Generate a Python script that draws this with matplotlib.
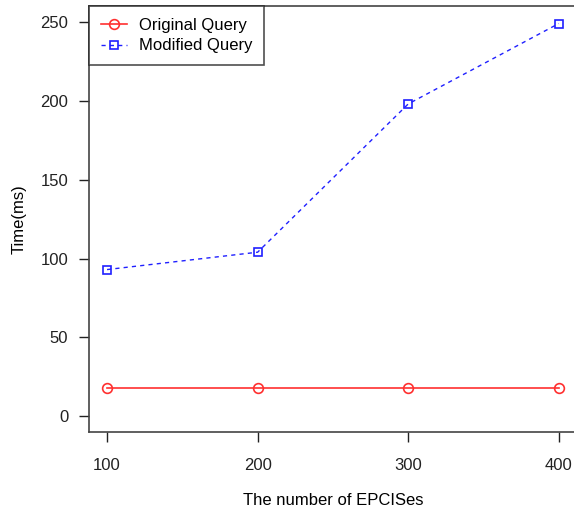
import matplotlib
matplotlib.use('Agg')
import matplotlib.pyplot as plt

plt.rcParams['font.family'] = ['Liberation Sans', 'DejaVu Sans']

# number of EPCISes vs query time
epcises = [100, 200, 300, 400]
original_query = [18, 18, 18, 18]
modified_query = [93, 104, 198, 249]
y_ticks = [0, 50, 100, 150, 200, 250]

fig = plt.figure(figsize=(5.74, 5.14), dpi=100)
ax = fig.add_axes([0.155, 0.1595, 0.85, 0.8285])

ax.plot(epcises, original_query, '-', color='#ff3030', marker='o', markersize=7,
        markerfacecolor='none', markeredgewidth=1.2, linewidth=1.2, label='Original Query')
ax.plot(epcises, modified_query, color='#2020ff', linestyle=(0, (3, 3)), marker='s', markersize=6,
        markerfacecolor='none', markeredgewidth=1.2, linewidth=1.0, label='Modified Query')

ax.set_xlim(88, 412)
ax.set_ylim(-10, 260)
ax.set_xticks(epcises)
ax.set_yticks(y_ticks)
ax.tick_params(direction='out', length=7, width=1, labelsize=12, pad=8, colors='#222222')
ax.tick_params(axis='x', pad=12)

for s in ax.spines.values():
    s.set_color('#444444')
    s.set_linewidth(1.2)
ax.spines['right'].set_visible(False)

ax.set_xlabel('The number of EPCISes', fontsize=12, labelpad=14)
ax.set_ylabel('Time(ms)', fontsize=12)
ax.yaxis.set_label_coords(-0.127, 0.5)

leg = ax.legend(loc='upper left', bbox_to_anchor=(0, 1), borderaxespad=0, fancybox=False,
                edgecolor='#222222', fontsize=12, handlelength=1.6,
                borderpad=0.7, labelspacing=0.33, handletextpad=0.7)
leg.get_frame().set_linewidth(1.2)

fig.savefig('out.png', dpi=100)
